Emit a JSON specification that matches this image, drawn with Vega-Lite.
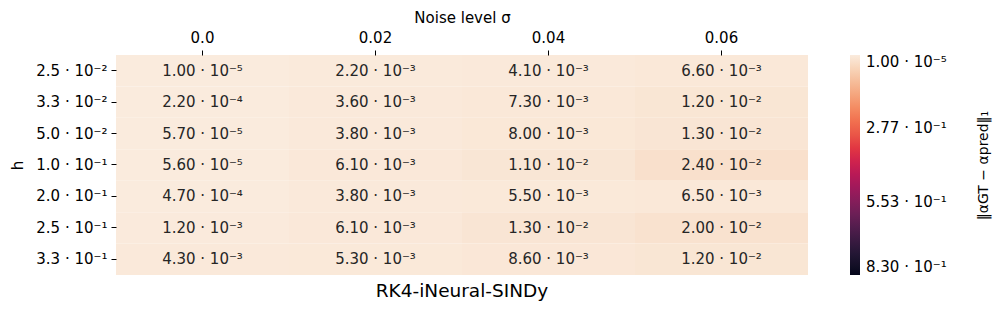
{
  "$schema": "https://vega.github.io/schema/vega-lite/v6.json",
  "autosize": "none",
  "width": 692,
  "height": 220,
  "padding": {"left": 116, "top": 55, "right": 188, "bottom": 37},
  "background": "white",
  "config": {
    "font": "DejaVu Sans",
    "view": {"stroke": null},
    "axis": {"labelFont": "DejaVu Sans", "titleFont": "DejaVu Sans", "labelColor": "black", "titleColor": "black", "labelFontSize": 15, "titleFontSize": 15, "titleFontWeight": "normal", "domain": false, "tickColor": "black", "tickSize": 5, "grid": false}
  },
  "title": {"text": "RK4-iNeural-SINDy", "orient": "bottom", "fontSize": 18.5, "fontWeight": "normal", "font": "DejaVu Sans", "color": "black", "offset": 7},
  "data": {"values": [
    {"h": "2.5 · 10⁻²", "noise": "0.0", "value": 0.00001, "label": "1.00 · 10⁻⁵"},
    {"h": "2.5 · 10⁻²", "noise": "0.02", "value": 0.0022, "label": "2.20 · 10⁻³"},
    {"h": "2.5 · 10⁻²", "noise": "0.04", "value": 0.0041, "label": "4.10 · 10⁻³"},
    {"h": "2.5 · 10⁻²", "noise": "0.06", "value": 0.0066, "label": "6.60 · 10⁻³"},
    {"h": "3.3 · 10⁻²", "noise": "0.0", "value": 0.00022, "label": "2.20 · 10⁻⁴"},
    {"h": "3.3 · 10⁻²", "noise": "0.02", "value": 0.0036, "label": "3.60 · 10⁻³"},
    {"h": "3.3 · 10⁻²", "noise": "0.04", "value": 0.0073, "label": "7.30 · 10⁻³"},
    {"h": "3.3 · 10⁻²", "noise": "0.06", "value": 0.012, "label": "1.20 · 10⁻²"},
    {"h": "5.0 · 10⁻²", "noise": "0.0", "value": 0.000057, "label": "5.70 · 10⁻⁵"},
    {"h": "5.0 · 10⁻²", "noise": "0.02", "value": 0.0038, "label": "3.80 · 10⁻³"},
    {"h": "5.0 · 10⁻²", "noise": "0.04", "value": 0.008, "label": "8.00 · 10⁻³"},
    {"h": "5.0 · 10⁻²", "noise": "0.06", "value": 0.013, "label": "1.30 · 10⁻²"},
    {"h": "1.0 · 10⁻¹", "noise": "0.0", "value": 0.000056, "label": "5.60 · 10⁻⁵"},
    {"h": "1.0 · 10⁻¹", "noise": "0.02", "value": 0.0061, "label": "6.10 · 10⁻³"},
    {"h": "1.0 · 10⁻¹", "noise": "0.04", "value": 0.011, "label": "1.10 · 10⁻²"},
    {"h": "1.0 · 10⁻¹", "noise": "0.06", "value": 0.024, "label": "2.40 · 10⁻²"},
    {"h": "2.0 · 10⁻¹", "noise": "0.0", "value": 0.00047, "label": "4.70 · 10⁻⁴"},
    {"h": "2.0 · 10⁻¹", "noise": "0.02", "value": 0.0038, "label": "3.80 · 10⁻³"},
    {"h": "2.0 · 10⁻¹", "noise": "0.04", "value": 0.0055, "label": "5.50 · 10⁻³"},
    {"h": "2.0 · 10⁻¹", "noise": "0.06", "value": 0.0065, "label": "6.50 · 10⁻³"},
    {"h": "2.5 · 10⁻¹", "noise": "0.0", "value": 0.0012, "label": "1.20 · 10⁻³"},
    {"h": "2.5 · 10⁻¹", "noise": "0.02", "value": 0.0061, "label": "6.10 · 10⁻³"},
    {"h": "2.5 · 10⁻¹", "noise": "0.04", "value": 0.013, "label": "1.30 · 10⁻²"},
    {"h": "2.5 · 10⁻¹", "noise": "0.06", "value": 0.02, "label": "2.00 · 10⁻²"},
    {"h": "3.3 · 10⁻¹", "noise": "0.0", "value": 0.0043, "label": "4.30 · 10⁻³"},
    {"h": "3.3 · 10⁻¹", "noise": "0.02", "value": 0.0053, "label": "5.30 · 10⁻³"},
    {"h": "3.3 · 10⁻¹", "noise": "0.04", "value": 0.0086, "label": "8.60 · 10⁻³"},
    {"h": "3.3 · 10⁻¹", "noise": "0.06", "value": 0.012, "label": "1.20 · 10⁻²"}
  ]},
  "encoding": {
    "x": {"field": "noise", "type": "nominal", "sort": ["0.0", "0.02", "0.04", "0.06"], "scale": {"paddingInner": 0, "paddingOuter": 0},
      "axis": {"orient": "top", "title": "Noise level σ", "labelAngle": 0, "titlePadding": 5, "labelPadding": 5}}
  },
  "resolve": {"scale": {"y": "independent"}, "axis": {"y": "independent"}},
  "layer": [
    {
      "mark": {"type": "rect"},
      "encoding": {
        "y": {"field": "h", "type": "nominal", "sort": ["2.5 · 10⁻²", "3.3 · 10⁻²", "5.0 · 10⁻²", "1.0 · 10⁻¹", "2.0 · 10⁻¹", "2.5 · 10⁻¹", "3.3 · 10⁻¹"], "scale": {"paddingInner": 0, "paddingOuter": 0},
          "axis": {"orient": "left", "title": "h", "titlePadding": 10, "labelPadding": 4}},
        "color": {"field": "value", "type": "quantitative",
          "scale": {"range": ["#03051a", "#35193e", "#701f57", "#ad1759", "#e13342", "#f37651", "#f6b48f", "#faebdd"], "domain": [0.83, 0.00001], "nice": false, "zero": false},
          "legend": {"orient": "none", "legendX": 734, "legendY": 0, "direction": "vertical",
            "gradientLength": 220, "gradientThickness": 10, "gradientStrokeWidth": 0,
            "values": [0.00001, 0.27667, 0.55333, 0.83],
            "labelExpr": "datum.value < 0.001 ? '1.00 · 10⁻⁵' : datum.value < 0.4 ? '2.77 · 10⁻¹' : datum.value < 0.7 ? '5.53 · 10⁻¹' : '8.30 · 10⁻¹'",
            "labelFontSize": 15, "labelColor": "black", "labelFont": "DejaVu Sans", "labelOffset": 6,
            "title": null}
        }
      }
    },
    {
      "mark": {"type": "text", "fontSize": 15, "color": "#262626", "font": "DejaVu Sans"},
      "encoding": {
        "y": {"field": "h", "type": "nominal", "sort": ["2.5 · 10⁻²", "3.3 · 10⁻²", "5.0 · 10⁻²", "1.0 · 10⁻¹", "2.0 · 10⁻¹", "2.5 · 10⁻¹", "3.3 · 10⁻¹"], "scale": {"paddingInner": 0, "paddingOuter": 0},
          "axis": {"orient": "right", "labels": false, "ticks": false, "offset": 175, "title": "‖αGT − αpred‖₁", "titleAngle": -90, "titleFontSize": 14, "titlePadding": 0, "titleBaseline": "middle"}},
        "text": {"field": "label"}
      }
    }
  ]
}
